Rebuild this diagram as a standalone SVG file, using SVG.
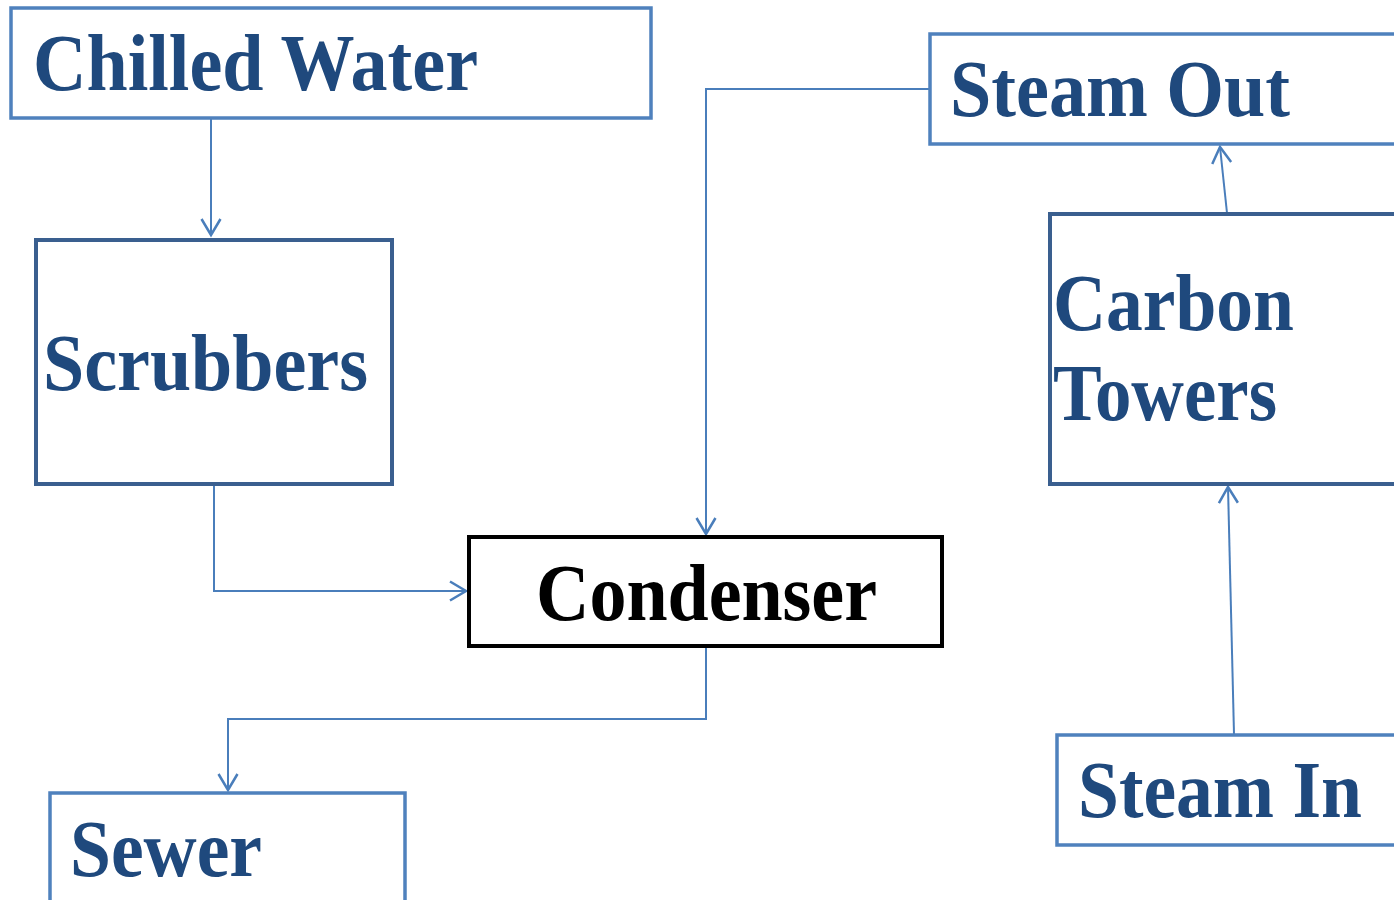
<svg xmlns="http://www.w3.org/2000/svg" width="1394" height="900" viewBox="0 0 1394 900">
<defs>
<style>
.lt{fill:#fff;stroke:#4f81bd;stroke-width:3.5}
.dk{fill:#fff;stroke:#3a5f8f;stroke-width:4}
.bk{fill:#fff;stroke:#000;stroke-width:4}
.t{font-family:"Liberation Serif","Times New Roman",serif;font-weight:bold;font-size:80px;fill:#1f497d}
.tb{font-family:"Liberation Serif","Times New Roman",serif;font-weight:bold;font-size:80px;fill:#000}
.c{fill:none;stroke:#4a7ebb;stroke-width:2}
</style>
<marker id="ar" markerUnits="userSpaceOnUse" markerWidth="24" markerHeight="24" refX="18" refY="11" orient="auto" viewBox="0 0 24 22">
<path d="M2,1.5 L18,11 L2,20.5" fill="none" stroke="#4a7ebb" stroke-width="2.5"/>
</marker>
</defs>
<rect width="1394" height="900" fill="#fff"/>
<g id="connectors">
<path class="c" d="M211,118 V235" marker-end="url(#ar)"/>
<path class="c" d="M214,484 V591 H466" marker-end="url(#ar)"/>
<path class="c" d="M930,89 H706 V534" marker-end="url(#ar)"/>
<path class="c" d="M706,646 V719 H228 V790" marker-end="url(#ar)"/>
<path class="c" d="M1227,213 L1220,147" marker-end="url(#ar)"/>
<path class="c" d="M1234,734 L1228,487" marker-end="url(#ar)"/>
</g>
<g id="chilled-water">
<rect class="lt" x="11" y="8" width="640" height="110"/>
<text class="t" x="33" y="90" textLength="445" lengthAdjust="spacingAndGlyphs">Chilled Water</text>
</g>
<g id="scrubbers">
<rect class="dk" x="36" y="240" width="356" height="244"/>
<text class="t" x="43" y="390" textLength="325" lengthAdjust="spacingAndGlyphs">Scrubbers</text>
</g>
<g id="condenser">
<rect class="bk" x="469" y="537" width="473" height="109"/>
<text class="tb" x="536" y="620" textLength="341" lengthAdjust="spacingAndGlyphs">Condenser</text>
</g>
<g id="steam-out">
<rect class="lt" x="930" y="34" width="480" height="110"/>
<text class="t" x="950" y="116" textLength="340" lengthAdjust="spacingAndGlyphs">Steam Out</text>
</g>
<g id="carbon-towers">
<rect class="dk" x="1050" y="214" width="360" height="270"/>
<text class="t" x="1053" y="330" textLength="241" lengthAdjust="spacingAndGlyphs">Carbon</text>
<text class="t" x="1053" y="420" textLength="224" lengthAdjust="spacingAndGlyphs">Towers</text>
</g>
<g id="sewer">
<rect class="lt" x="50" y="793" width="355" height="130"/>
<text class="t" x="70" y="876" textLength="192" lengthAdjust="spacingAndGlyphs">Sewer</text>
</g>
<g id="steam-in">
<rect class="lt" x="1057" y="735" width="360" height="110"/>
<text class="t" x="1078" y="817" textLength="284" lengthAdjust="spacingAndGlyphs">Steam In</text>
</g>
</svg>
